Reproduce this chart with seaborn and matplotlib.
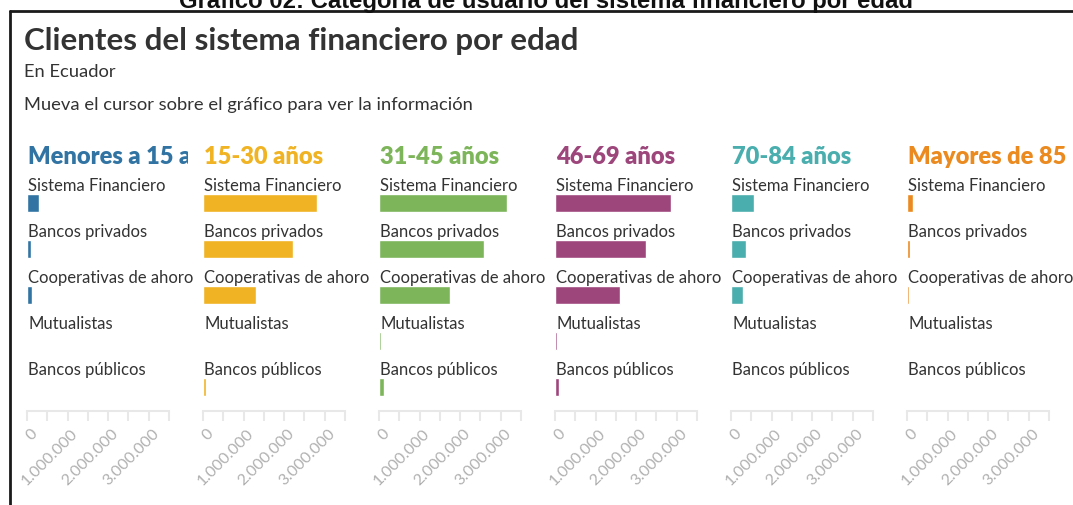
import matplotlib
matplotlib.use("Agg")
import matplotlib.pyplot as plt
import matplotlib.ticker as mticker
from matplotlib.transforms import Bbox, TransformedBbox, ScaledTranslation
import seaborn as sns
import pandas as pd

# ---------------- data (clients) ----------------
grupos = ["Menores a 15 años", "15-30 años", "31-45 años", "46-69 años", "70-84 años", "Mayores de 85 años"]
categorias = ["Sistema Financiero", "Bancos privados", "Cooperativas de ahoro", "Mutualistas", "Bancos públicos"]
colores = ["#3174a3", "#f0b323", "#7db55a", "#9d467c", "#4aaeae", "#ea8a1f"]

menores_15 = [300000, 100000, 120000, 5000, 2000]
de_15_30 = [2810000, 2220000, 1300000, 25000, 70000]
de_31_45 = [3150000, 2600000, 1750000, 45000, 120000]
de_46_69 = [2860000, 2240000, 1600000, 60000, 100000]
de_70_84 = [560000, 370000, 300000, 12000, 10000]
mayores_85 = [150000, 80000, 50000, 5000, 0]
valores = [menores_15, de_15_30, de_31_45, de_46_69, de_70_84, mayores_85]

ticks_mayores = [0, 1000000, 2000000, 3000000]
ticks_menores = [500000, 1500000, 2500000, 3500000]

W, H = 1073, 505
sns.set_style("white")
plt.rcParams["font.family"] = ["Lato", "DejaVu Sans"]

fig = plt.figure(figsize=(W / 100, H / 100), dpi=100)


def px_axes(x, y_top, w, h):
    return fig.add_axes([x / W, 1 - (y_top + h) / H, w / W, h / H])


# frame around the embedded chart and outer caption (cut off at the top, as in the source)
fig.add_artist(plt.Line2D([10 / W, 10 / W], [0, 1 - 11 / H], color="#1a1a1a", lw=2))
fig.add_artist(plt.Line2D([10 / W, 1], [1 - 11 / H, 1 - 11 / H], color="#1a1a1a", lw=2))
fig.text(546 / W, 1 - 8 / H, "Gráfico 02: Categoría de usuario del sistema financiero por edad",
         family="Liberation Sans", weight="bold", fontsize=17.2, ha="center", va="baseline", color="#111")

fig.text(24 / W, 1 - 50 / H, "Clientes del sistema financiero por edad",
         fontsize=22.5, weight="bold", color="#333333", va="baseline")
fig.text(24 / W, 1 - 77 / H, "En Ecuador", fontsize=13.2, color="#333333", va="baseline")
fig.text(24 / W, 1 - 110 / H, "Mueva el cursor sobre el gráfico para ver la información",
         fontsize=13.2, color="#333333", va="baseline")

fmt = mticker.FuncFormatter(lambda v, p: f"{int(v):,}".replace(",", "."))
desplazar = ScaledTranslation(0.03, 0, fig.dpi_scale_trans)

for i, (grupo, vals, col) in enumerate(zip(grupos, valores, colores)):
    x0 = 27 + 176 * i
    ax = px_axes(x0, 170, 142, 241)
    df = pd.DataFrame({"categoria": categorias, "clientes": vals})
    sns.barplot(data=df, x="clientes", y="categoria", orient="h", color=col,
                width=0.39, saturation=1, ax=ax)
    ax.set_xlim(0, 3500000)
    ax.set_ylim(4.522, -0.717)
    ax.set_xlabel("")
    ax.set_ylabel("")
    ax.set_yticks([])
    for j, cat in enumerate(categorias):
        ax.text(30000, j - 0.26, cat, fontsize=12.0, color="#333333", va="baseline", clip_on=False)
    for s in ["top", "right", "left"]:
        ax.spines[s].set_visible(False)
    ax.spines["bottom"].set_color("#e8e8e8")
    ax.spines["bottom"].set_linewidth(1.5)
    ax.xaxis.set_major_locator(mticker.FixedLocator(ticks_mayores))
    ax.xaxis.set_minor_locator(mticker.FixedLocator(ticks_menores))
    ax.xaxis.set_major_formatter(fmt)
    ax.tick_params(axis="x", which="both", direction="out", length=7, width=1.5,
                   color="#e8e8e8", bottom=True, labelcolor="#b0b0b0", labelsize=11.5, pad=4)
    for lab in ax.get_xticklabels():
        lab.set_rotation(45)
        lab.set_ha("right")
        lab.set_va("top")
        lab.set_rotation_mode("anchor")
        lab.set_transform(lab.get_transform() + desplazar)

    t = fig.text((x0 + 1) / W, 1 - 164 / H, grupo, fontsize=17, weight="heavy", color=col, va="baseline")
    t.set_clip_box(TransformedBbox(Bbox([[x0 / W, 0], [(x0 + 161) / W, 1]]), fig.transFigure))
    t.set_clip_on(True)

fig.savefig("out.png", dpi=100)
